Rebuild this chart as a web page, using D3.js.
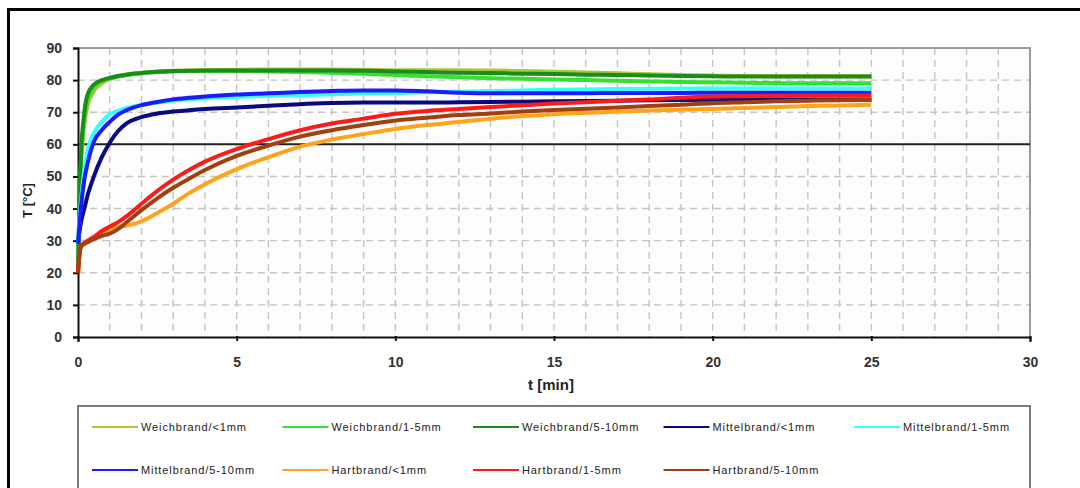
<!DOCTYPE html>
<html>
<head>
<meta charset="utf-8">
<script src="https://cdn.jsdelivr.net/npm/d3@7"></script>
<style>
  html, body { margin: 0; padding: 0; background: #fff; }
  svg { display: block; }
</style>
</head>
<body>
<div id="chart"></div>
<script>
// Sampling times in minutes, shared by all series
const times = [0, 0.05, 0.1, 0.2, 0.3, 0.5, 0.75, 1, 1.25, 1.5, 2, 2.5, 3, 3.5, 4, 5, 6, 7, 8, 9, 10, 11, 12, 13, 14, 15, 16, 17, 18, 19, 20, 21, 22, 23, 24, 25];

// Temperatures in °C for each series
const weichLt1 = [20, 40, 54, 66, 72, 76.5, 79, 80.3, 81.1, 81.6, 82.3, 82.7, 82.9, 83, 83.1, 83.2, 83.3, 83.3, 83.3, 83.2, 83.1, 83.1, 83.1, 83, 82.8, 82.6, 82.4, 82.1, 81.8, 81.6, 81.4, 81.3, 81.2, 81.2, 81.2, 81.2];
const weich1to5 = [20, 43, 56, 68, 74, 78, 79.8, 80.5, 81.1, 81.5, 82.1, 82.5, 82.7, 82.8, 82.8, 82.8, 82.7, 82.5, 82.3, 82, 81.6, 81.2, 80.9, 80.6, 80.4, 80.2, 80, 79.8, 79.6, 79.4, 79.3, 79.2, 79.1, 79, 79, 79];
const weich5to10 = [20, 45, 58, 70, 75.5, 78.6, 80, 80.7, 81.3, 81.7, 82.2, 82.6, 82.8, 82.9, 83, 83, 83, 83, 83, 82.9, 82.7, 82.5, 82.3, 82.2, 82, 81.9, 81.7, 81.6, 81.4, 81.3, 81.2, 81.1, 81.1, 81.1, 81.1, 81.1];
const mittelLt1 = [29, 33, 36, 40, 44, 50, 56, 60.5, 64, 66.3, 68.5, 69.6, 70.2, 70.6, 71, 71.5, 72, 72.5, 72.9, 73, 73, 73, 73.1, 73.2, 73.3, 73.4, 73.5, 73.6, 73.7, 73.8, 73.9, 74, 74, 74, 74, 74];
const mittel1to5 = [29, 37, 43, 52, 58, 63.5, 67, 69.3, 70.4, 71.2, 72.3, 73, 73.6, 74, 74.3, 74.8, 75.1, 75.4, 75.6, 75.8, 76, 76.2, 76.4, 76.6, 76.8, 77, 77.1, 77.2, 77.3, 77.4, 77.4, 77.4, 77.4, 77.4, 77.4, 77.4];
const mittel5to10 = [29, 35, 41, 49, 54, 60.8, 64.5, 67, 69.2, 70.5, 72.2, 73.2, 74, 74.5, 74.9, 75.5, 75.9, 76.3, 76.6, 76.8, 76.8, 76.5, 76.1, 75.9, 75.9, 75.9, 75.9, 76, 76, 76, 76.1, 76.1, 76.1, 76.1, 76.1, 76.1];
const hartLt1 = [20, 26, 28.3, 29, 29.6, 30.8, 32.5, 33.6, 34.3, 34.6, 36, 38.6, 41.5, 44.8, 47.6, 52.3, 56, 59.3, 61.5, 63.2, 64.8, 66, 67, 68, 68.8, 69.4, 69.8, 70.2, 70.5, 70.8, 71, 71.3, 71.6, 71.9, 72.1, 72.3];
const hart1to5 = [20, 26, 28.5, 29.3, 30, 31.2, 33, 34.4, 35.7, 37.4, 41.5, 45.5, 49, 52, 54.6, 58.5, 61.6, 64.4, 66.5, 68, 69.5, 70.4, 71, 71.6, 72.2, 72.7, 73.1, 73.6, 74, 74.5, 74.9, 75, 75.1, 75.2, 75.2, 75.2];
const hart5to10 = [20, 26, 28.2, 29, 29.5, 30.5, 31.5, 32.2, 33.5, 35.5, 39.5, 43.2, 46.5, 49.3, 52, 56.4, 59.6, 62.4, 64.4, 66, 67.4, 68.3, 69.1, 69.6, 70.2, 70.7, 71.1, 71.5, 71.9, 72.3, 72.8, 73.1, 73.4, 73.6, 73.7, 73.8];

const seriesNames = ["Weichbrand/<1mm", "Weichbrand/1-5mm", "Weichbrand/5-10mm", "Mittelbrand/<1mm", "Mittelbrand/1-5mm", "Mittelbrand/5-10mm", "Hartbrand/<1mm", "Hartbrand/1-5mm", "Hartbrand/5-10mm"];
const seriesValues = [weichLt1, weich1to5, weich5to10, mittelLt1, mittel1to5, mittel5to10, hartLt1, hart1to5, hart5to10];
const seriesColors = ["#a8c832", "#33e033", "#1a8c1a", "#0a0a80", "#33ffff", "#1a1aff", "#ffa31a", "#ff1a1a", "#a0400f"];

const xTicks = [0, 5, 10, 15, 20, 25, 30];
const yTicks = [0, 10, 20, 30, 40, 50, 60, 70, 80, 90];
const referenceTemp = 60;

const W = 1080, H = 488;
const plot = { left: 78, right: 1030, top: 48, bottom: 337 };
const font = "Arial, 'Liberation Sans', sans-serif";

const svg = d3.select("#chart").append("svg")
  .attr("width", W).attr("height", H)
  .style("font-family", font);

// outer frame
svg.append("rect")
  .attr("x", 8.5).attr("y", 9.5).attr("width", W + 20).attr("height", H + 20)
  .attr("fill", "#fff").attr("stroke", "#000").attr("stroke-width", 3);

const x = d3.scaleLinear().domain([0, 30]).range([plot.left, plot.right]);
const y = d3.scaleLinear().domain([0, 90]).range([plot.bottom, plot.top]);

// plot background
svg.append("rect")
  .attr("x", plot.left).attr("y", plot.top)
  .attr("width", plot.right - plot.left).attr("height", plot.bottom - plot.top)
  .attr("fill", "#fdfdfd");

// dashed grid: every minute, every 10 °C
const grid = svg.append("g").attr("stroke", "#c4c4c4").attr("stroke-width", 1.4).attr("stroke-dasharray", "7,5");
grid.selectAll("line.v").data(d3.range(1, 30)).join("line")
  .attr("x1", d => x(d)).attr("x2", d => x(d))
  .attr("y1", plot.top).attr("y2", plot.bottom);
grid.selectAll("line.h").data(yTicks.filter(d => d > 0 && d < 90)).join("line")
  .attr("x1", plot.left).attr("x2", plot.right)
  .attr("y1", d => y(d)).attr("y2", d => y(d));

// top and right plot border
svg.append("path")
  .attr("d", `M${plot.left},${plot.top}H${plot.right}V${plot.bottom}`)
  .attr("fill", "none").attr("stroke", "#9a9a9a").attr("stroke-width", 2);

// axes
const yAxis = d3.axisLeft(y).tickValues(yTicks).tickSize(5).tickPadding(11);
const xAxis = d3.axisBottom(x).tickValues(xTicks).tickSize(5).tickPadding(15);

const gy = svg.append("g").attr("transform", `translate(${plot.left},0)`).call(yAxis);
const gx = svg.append("g").attr("transform", `translate(0,${plot.bottom})`).call(xAxis);
[gx, gy].forEach(g => {
  g.select(".domain").attr("stroke", "#111").attr("stroke-width", 2);
  g.selectAll(".tick line").attr("stroke", "#111").attr("stroke-width", 2);
  g.selectAll(".tick text")
    .attr("fill", "#333").attr("font-size", 14).attr("font-weight", "bold")
    .attr("font-family", font);
});
gx.selectAll(".tick line").attr("y1", -1).attr("y2", 4);

// 60 °C reference line
svg.append("line")
  .attr("x1", plot.left).attr("x2", plot.right)
  .attr("y1", y(referenceTemp)).attr("y2", y(referenceTemp))
  .attr("stroke", "#222").attr("stroke-width", 2);

// temperature curves
const line = d3.line()
  .x((d, i) => x(times[i]))
  .y(d => y(d))
  .curve(d3.curveMonotoneX);

svg.append("g")
  .selectAll("path").data(seriesValues).join("path")
  .attr("d", d => line(d))
  .attr("fill", "none")
  .attr("stroke", (d, i) => seriesColors[i])
  .attr("stroke-width", 4)
  .attr("stroke-linejoin", "round")
  .attr("stroke-linecap", "butt");

// axis titles
svg.append("text")
  .attr("x", 551).attr("y", 390)
  .attr("text-anchor", "middle")
  .attr("font-size", 15).attr("font-weight", "bold").attr("fill", "#222")
  .text("t [min]");

svg.append("text")
  .attr("transform", `translate(32,${(plot.top + plot.bottom) / 2 + 8}) rotate(-90)`)
  .attr("text-anchor", "middle")
  .attr("font-size", 13).attr("font-weight", "bold").attr("fill", "#222")
  .text("T [°C]");

// legend
svg.append("rect")
  .attr("x", 78).attr("y", 406).attr("width", 952).attr("height", 120)
  .attr("fill", "#fff").attr("stroke", "#7a7a7a").attr("stroke-width", 2);

const legendCols = 5, colW = 190.5, rowH = 43;
const legend = svg.append("g").selectAll("g").data(seriesNames).join("g")
  .attr("transform", (d, i) => `translate(${92 + (i % legendCols) * colW},${427 + Math.floor(i / legendCols) * rowH})`);
legend.append("line")
  .attr("x1", 0).attr("x2", 46).attr("y1", 0).attr("y2", 0)
  .attr("stroke", (d, i) => seriesColors[i]).attr("stroke-width", 2);
legend.append("text")
  .attr("x", 49).attr("y", 4)
  .attr("font-size", 11).attr("letter-spacing", 0.9).attr("fill", "#222")
  .text(d => d);
</script>
</body>
</html>
